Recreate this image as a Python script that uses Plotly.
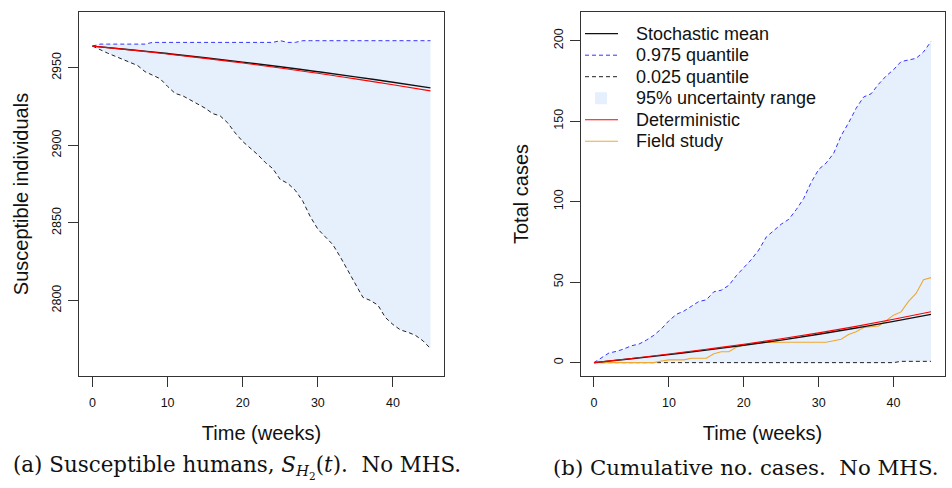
import plotly.graph_objects as go

# ---- data -------------------------------------------------------------
weeks = list(range(46))
smooth_weeks = [0, 5, 10, 15, 20, 25, 30, 35, 40, 45]

# (a) susceptible humans S_H2(t), no MHS
sus_upper = [2964.0, 2965.3, 2965.3, 2965.3, 2965.3, 2965.3, 2965.3, 2965.3,
             2966.4, 2966.4, 2966.4, 2966.4, 2966.4, 2966.4, 2966.4, 2966.4,
             2966.4, 2966.4, 2966.4, 2966.4, 2966.4, 2966.4, 2966.4, 2966.4,
             2966.4, 2967.5, 2966.4, 2966.4, 2967.5, 2967.5, 2967.5, 2967.5,
             2967.5, 2967.5, 2967.5, 2967.5, 2967.5, 2967.5, 2967.5, 2967.5,
             2967.5, 2967.5, 2967.5, 2967.5, 2967.5, 2967.5]
sus_lower = [2964.0, 2961.5, 2959.5, 2957.5, 2955.5, 2953.0, 2951.5, 2947.5,
             2945.5, 2943.0, 2938.0, 2933.5, 2932.0, 2929.5, 2927.0, 2924.0,
             2920.5, 2919.0, 2914.5, 2908.0, 2902.5, 2898.5, 2894.0, 2889.0,
             2885.0, 2878.0, 2875.5, 2871.0, 2864.0, 2854.0, 2846.0, 2841.0,
             2836.0, 2828.0, 2819.0, 2810.0, 2802.0, 2800.0, 2797.0, 2789.0,
             2784.5, 2781.0, 2779.5, 2777.5, 2774.0, 2769.0]
sus_mean = [2964.0, 2961.7, 2959.2, 2956.5, 2953.7, 2950.7, 2947.5, 2944.2, 2940.7, 2937.1]
sus_det = [2964.0, 2961.55, 2958.9, 2956.1, 2953.1, 2949.9, 2946.5, 2942.9, 2939.1, 2935.15]

# (b) cumulative number of cases, no MHS
cases_upper = [0, 3, 6, 7, 8.5, 10.5, 11.5, 14, 17, 21, 26, 30, 32, 35, 38, 39,
               44, 45, 48, 54, 59, 64, 70, 78, 82, 86, 89, 95, 102, 112, 120,
               124, 130, 141, 149, 158, 165, 167, 173, 178, 182, 187, 188, 189,
               193, 199.5]
cases_lower = [0, 0, 0, 0, 0, 0, 0, 0, 0, 0, 0, 0, 0, 0, 0, 0, 0, 0, 0, 0, 0,
               0, 0, 0, 0, 0, 0, 0, 0, 0, 0, 0, 0, 0, 0, 0, 0, 0, 0, 0, 0,
               0.8, 0.8, 0.8, 0.8, 0.8]
cases_mean = [0, 2.4, 5.0, 7.8, 10.8, 14.0, 17.6, 21.5, 25.6, 30.0]
cases_det = [0, 2.6, 5.4, 8.3, 11.4, 14.8, 18.5, 22.5, 26.9, 31.6]
field_study = [0, 0, 0, 0, 0, 0, 0, 0, 0, 1, 1.7, 1.7, 1.7, 2.7, 2.7, 2.7,
               5.5, 6.8, 6.8, 9.5, 11, 11.7, 12.2, 12.5, 12.7, 12.7, 12.7,
               12.7, 12.7, 12.7, 12.7, 12.7, 13.6, 14.5, 17.5, 19.2, 21.8,
               22.5, 22.8, 26, 29.5, 31.5, 38, 43, 51.5, 52.8]

x_ticks = [0, 10, 20, 30, 40]
sus_ticks = [2800, 2850, 2900, 2950]
cases_ticks = [0, 50, 100, 150, 200]

legend_labels = ["Stochastic mean", "0.975 quantile", "0.025 quantile",
                 "95% uncertainty range", "Deterministic", "Field study"]

# ---- styling ----------------------------------------------------------
W, H = 952, 488
SANS = "Liberation Sans, Arial, Helvetica, sans-serif"
SERIF = "DejaVu Serif, Liberation Serif, serif"
BAND = "#E6F0FC"
BLUE = "#3333FF"
RED = "#FF0000"
ORANGE = "#F0A830"
DASH = "4px,3px"


def px(x):
    return x / W


def py(y):
    return 1 - y / H


fig = go.Figure()


def add_panel(xa, ya, upper, lower, mean, det, field=None):
    # shaded 95% band between the two quantiles
    fig.add_trace(go.Scatter(
        x=weeks + weeks[::-1], y=upper + lower[::-1], fill="toself",
        fillcolor=BAND, line=dict(width=0), mode="lines",
        hoverinfo="skip", showlegend=False, xaxis=xa, yaxis=ya))
    fig.add_trace(go.Scatter(
        x=weeks, y=lower, mode="lines",
        line=dict(color="#222222", width=1, dash=DASH),
        showlegend=False, xaxis=xa, yaxis=ya))
    fig.add_trace(go.Scatter(
        x=weeks, y=upper, mode="lines",
        line=dict(color=BLUE, width=1, dash=DASH),
        showlegend=False, xaxis=xa, yaxis=ya))
    if field is not None:
        fig.add_trace(go.Scatter(
            x=weeks, y=field, mode="lines",
            line=dict(color=ORANGE, width=1.1),
            showlegend=False, xaxis=xa, yaxis=ya))
    fig.add_trace(go.Scatter(
        x=smooth_weeks, y=mean, mode="lines", line_shape="spline",
        line=dict(color="#111111", width=1.4),
        showlegend=False, xaxis=xa, yaxis=ya))
    fig.add_trace(go.Scatter(
        x=smooth_weeks, y=det, mode="lines", line_shape="spline",
        line=dict(color=RED, width=1.1),
        showlegend=False, xaxis=xa, yaxis=ya))


add_panel("x", "y", sus_upper, sus_lower, sus_mean, sus_det)
add_panel("x2", "y2", cases_upper, cases_lower, cases_mean, cases_det, field_study)

axis_common = dict(
    showline=True, mirror=True, linecolor="#333333", linewidth=1,
    ticks="outside", ticklen=10, tickcolor="#333333", tickwidth=1,
    showgrid=False, zeroline=False, automargin=False,
    tickfont=dict(family=SANS, size=12.5, color="#111111"),
)
title_font = dict(family=SANS, size=20, color="#111111")
x_common = dict(axis_common, range=[-1.8, 46.8], tickvals=x_ticks,
                ticklabelstandoff=5,
                title=dict(text="Time (weeks)", standoff=16, font=title_font))
y_domain = [py(376), py(12)]

fig.update_layout(
    width=W, height=H,
    margin=dict(l=0, r=0, t=0, b=0, pad=0),
    paper_bgcolor="white", plot_bgcolor="white",
    showlegend=False,
    xaxis=dict(x_common, domain=[px(79), px(444)], anchor="y"),
    xaxis2=dict(x_common, domain=[px(580.5), px(944.5)], anchor="y2"),
    yaxis=dict(axis_common, domain=y_domain, anchor="x",
               range=[2751.3, 2986], tickvals=sus_ticks, tickangle=-90,
               ticklabelstandoff=2,
               title=dict(text="Susceptible individuals", standoff=16, font=title_font)),
    yaxis2=dict(axis_common, domain=y_domain, anchor="x2",
                range=[-8.3, 217.8], tickvals=cases_ticks, tickangle=-90,
                ticklabelstandoff=2,
                title=dict(text="Total cases", standoff=17, font=title_font)),
)

# legend of panel (b)
legend_styles = [
    dict(kind="line", color="#111111", dash="solid", width=1.3),
    dict(kind="line", color=BLUE, dash=DASH, width=1),
    dict(kind="line", color="#222222", dash=DASH, width=1),
    dict(kind="box", color=BAND),
    dict(kind="line", color=RED, dash="solid", width=1.1),
    dict(kind="line", color=ORANGE, dash="solid", width=1.1),
]
row0, row_gap = 33.7, 21.5
for i, (label, st) in enumerate(zip(legend_labels, legend_styles)):
    yc = row0 + i * row_gap
    if st["kind"] == "line":
        fig.add_shape(type="line", xref="paper", yref="paper",
                      x0=px(585), x1=px(618), y0=py(yc), y1=py(yc),
                      line=dict(color=st["color"], width=st["width"], dash=st["dash"]))
    else:
        fig.add_shape(type="rect", xref="paper", yref="paper",
                      x0=px(595), x1=px(607), y0=py(yc + 6), y1=py(yc - 6),
                      fillcolor=st["color"], line=dict(width=0))
    fig.add_annotation(text=label, xref="paper", yref="paper",
                       x=px(634), y=py(yc), xanchor="left", yanchor="middle",
                       showarrow=False,
                       font=dict(family=SANS, size=18, color="#111111"))

# sub-figure captions
fig.add_annotation(
    text="(a) Susceptible humans, <i>S</i><sub><i>H</i><sub>2</sub></sub>(<i>t</i>).  No MHS.",
    xref="paper", yref="paper", x=px(237), y=py(467),
    xanchor="center", yanchor="middle", showarrow=False,
    font=dict(family=SERIF, size=21.4, color="#111111"))
fig.add_annotation(
    text="(b) Cumulative no. cases.  No MHS.",
    xref="paper", yref="paper", x=px(746), y=py(467),
    xanchor="center", yanchor="middle", showarrow=False,
    font=dict(family=SERIF, size=21.3, color="#111111"))

fig.write_html("out.html")
